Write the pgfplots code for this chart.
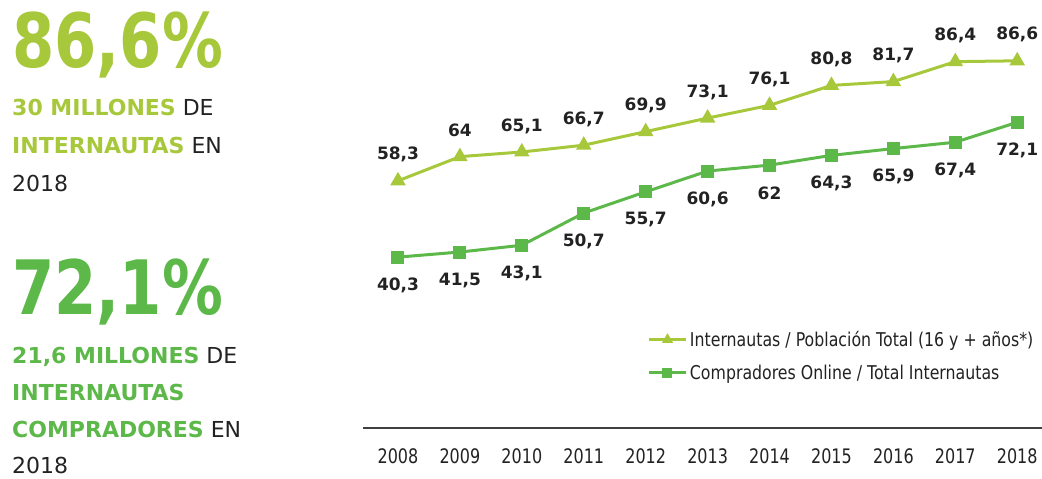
\documentclass[border=0pt]{standalone}
\usepackage{pgfplots}
\pgfplotsset{compat=1.18}
\usepackage{fontspec}
\setmainfont{DejaVu Sans}
\newfontfamily\condfont[FakeStretch=0.8]{DejaVu Sans}
\newfontfamily\legfont[FakeStretch=0.83]{DejaVu Sans}
\newfontfamily\bigfont[FakeStretch=0.81]{DejaVu Sans}
\definecolor{lima}{HTML}{A8C83C}
\definecolor{verde}{HTML}{5DB84A}
\definecolor{texto}{HTML}{222222}

\begin{document}
\begin{tikzpicture}[x=1pt,y=1pt]
\path[use as bounding box] (0,0) rectangle (1042,479);

% left block 1
\node[anchor=base west, inner sep=0, text=lima, font=\bigfont\bfseries\fontsize{75}{80}\selectfont] at (12,411) {86,6\%};
\begin{scope}[every node/.style={anchor=base west, inner sep=0, text=texto, font=\fontsize{22}{26}\selectfont}]
\node at (12,363) {\textcolor{lima}{\bfseries 30 MILLONES} DE};
\node at (12,325) {\textcolor{lima}{\bfseries INTERNAUTAS} EN};
\node at (12,287) {2018};
\end{scope}

% left block 2
\node[anchor=base west, inner sep=0, text=verde, font=\bigfont\bfseries\fontsize{75}{80}\selectfont] at (12,164) {72,1\%};
\begin{scope}[every node/.style={anchor=base west, inner sep=0, text=texto, font=\fontsize{22}{26}\selectfont}]
\node at (12,115) {\textcolor{verde}{\bfseries 21,6 MILLONES} DE};
\node at (12,78) {\textcolor{verde}{\bfseries INTERNAUTAS}};
\node at (12,41) {\textcolor{verde}{\bfseries COMPRADORES} EN};
\node at (12,5) {2018};
\end{scope}

\begin{axis}[
    at={(363pt,51pt)}, anchor=south west,
    scale only axis,
    width=679pt, height=424pt,
    xmin=-0.565, xmax=10.4,
    ymin=0, ymax=100,
    axis y line=none,
    axis x line*=bottom,
    x axis line style={-, draw=black!75, line width=1.2pt},
    xtick={0,...,10},
    xticklabels={2008,2009,2010,2011,2012,2013,2014,2015,2016,2017,2018},
    major tick length=0pt,
    xticklabel style={font=\condfont\fontsize{20}{22}\selectfont, text=texto, yshift=-17pt},
    clip=false,
    point meta=explicit symbolic,
    legend style={at={(0.415,0.238)}, anchor=north west, draw=none, fill=none,
        font=\legfont\fontsize{19}{21}\selectfont, text=texto, row sep=13pt,
        nodes={inner xsep=2pt}},
    legend cell align=left,
    legend image code/.code={\draw[mark repeat=2,mark phase=2,#1,mark size=3.5pt] plot coordinates {(0pt,0pt)(18pt,0pt)(37pt,0pt)};},
]
\addplot[lima, line width=3pt, mark=triangle*, mark size=6pt, mark options={solid},
    nodes near coords,
    every node near coord/.style={anchor=center, yshift=26pt, text=texto,
        font=\bfseries\fontsize{17}{19}\selectfont}]
table[meta=lab] {
x y lab
0 58.3 58,3
1 64.0 64
2 65.1 65,1
3 66.7 66,7
4 69.9 69,9
5 73.1 73,1
6 76.1 76,1
7 80.8 80,8
8 81.7 81,7
9 86.4 86,4
10 86.6 86,6
};
\addlegendentry{Internautas / Población Total (16 y + años*)}

\addplot[verde, line width=3pt, mark=square*, mark size=5pt, mark options={solid},
    nodes near coords,
    every node near coord/.style={anchor=center, yshift=-28pt, text=texto,
        font=\bfseries\fontsize{17}{19}\selectfont}]
table[meta=lab] {
x y lab
0 40.3 40,3
1 41.5 41,5
2 43.1 43,1
3 50.7 50,7
4 55.7 55,7
5 60.6 60,6
6 62.0 62
7 64.3 64,3
8 65.9 65,9
9 67.4 67,4
10 72.1 72,1
};
\addlegendentry{Compradores Online / Total Internautas}
\end{axis}
\end{tikzpicture}
\end{document}
